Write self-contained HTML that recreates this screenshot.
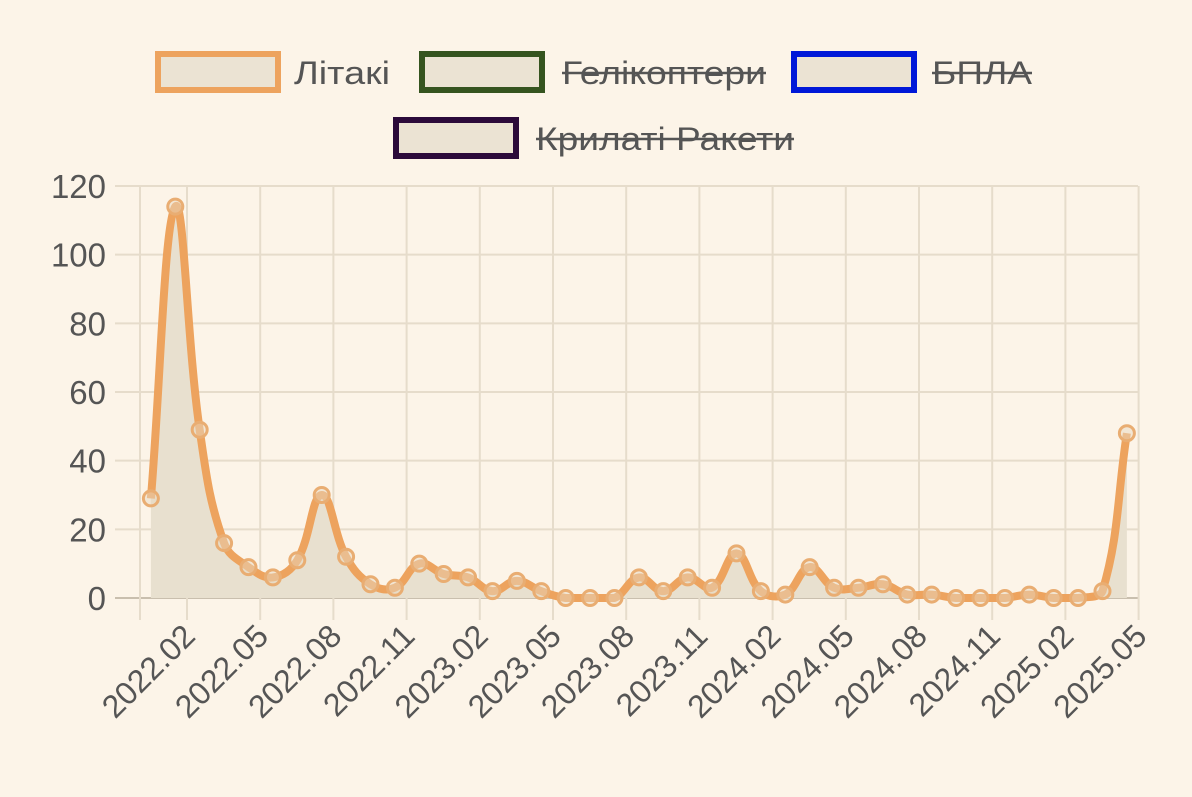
<!DOCTYPE html>
<html><head><meta charset="utf-8">
<style>
body{margin:0;background:#fcf4e8;}
svg{display:block;font-family:"Liberation Sans",sans-serif;}
</style></head>
<body>
<svg id="chart" width="1192" height="797">
<rect width="1192" height="797" fill="#fcf4e8"/>
<g>
 <g>
  <rect x="158" y="54" width="120" height="36" fill="#ebe3d3" stroke="#eda35e" stroke-width="6"/>
  <text x="294" y="84" font-size="32" fill="#555" textLength="96" lengthAdjust="spacingAndGlyphs">Літакі</text>
 </g>
 <g>
  <rect x="422" y="54" width="120" height="36" fill="#ebe3d3" stroke="#35541f" stroke-width="6"/>
  <text x="562" y="84" font-size="32" fill="#555" textLength="204" lengthAdjust="spacingAndGlyphs">Гелікоптери</text>
  <line x1="562" y1="73" x2="766" y2="73" stroke="#555" stroke-width="2.5"/>
 </g>
 <g>
  <rect x="794" y="54" width="120" height="36" fill="#ebe3d3" stroke="#0018d8" stroke-width="6"/>
  <text x="932" y="84" font-size="32" fill="#555" textLength="100" lengthAdjust="spacingAndGlyphs">БПЛА</text>
  <line x1="932" y1="73" x2="1032" y2="73" stroke="#555" stroke-width="2.5"/>
 </g>
 <g>
  <rect x="396" y="120" width="120" height="36" fill="#ebe3d3" stroke="#2b0a3a" stroke-width="6"/>
  <text x="536" y="150" font-size="32" fill="#555" textLength="258" lengthAdjust="spacingAndGlyphs">Крилаті Ракети</text>
  <line x1="536" y1="139" x2="794" y2="139" stroke="#555" stroke-width="2.5"/>
 </g>
</g>
<g id="grid"></g>
<g id="yaxis"></g>
<g id="xaxis"></g>
<g id="series"></g>
</svg>
<script>
const yTicks = [0, 20, 40, 60, 80, 100, 120];
const xTickLabels = ["2022.02","2022.05","2022.08","2022.11","2023.02","2023.05","2023.08","2023.11","2024.02","2024.05","2024.08","2024.11","2025.02","2025.05"];
const xTickMonths = [0,3,6,9,12,15,18,21,24,27,30,33,36,39];
const pointMonths = [-1.48,-0.48,0.52,1.52,2.52,3.52,4.52,5.52,6.52,7.52,8.52,9.52,10.52,11.52,12.52,13.52,14.52,15.52,16.52,17.52,18.52,19.52,20.52,21.52,22.52,23.52,24.52,25.52,26.52,27.52,28.52,29.52,30.52,31.52,32.52,33.52,34.52,35.52,36.52,37.52,38.52];
const litakiValues = [29,114,49,16,9,6,11,30,12,4,3,10,7,6,2,5,2,0,0,0,6,2,6,3,13,2,1,9,3,3,4,1,1,0,0,0,1,0,0,2,48];

const NS="http://www.w3.org/2000/svg";
const X0=140, X1=1138, Y0=598, Y1=186;
function xs(m){return 187 + m*24.4;}
function ys(v){return Y0 - (v/120)*(Y0-Y1);}
function mk(tag,attrs,parent){const e=document.createElementNS(NS,tag);for(const k in attrs)e.setAttribute(k,attrs[k]);parent.appendChild(e);return e;}
const grid=document.getElementById('grid'), ya=document.getElementById('yaxis'), xa=document.getElementById('xaxis'), ser=document.getElementById('series');
yTicks.forEach(v=>{
  const l=mk('line',{x1:115,x2:X1,y1:ys(v),y2:ys(v),stroke:v===0?'#c9bfae':'#e6dccb','stroke-width':2},grid);
  
  
  const t=mk('text',{x:106,y:ys(v)+12,'text-anchor':'end','font-size':33,fill:'#555'},ya);
  t.textContent=v;
  
  
});
const vl=mk('line',{x1:X0,x2:X0,y1:Y1,y2:620,stroke:'#e6dccb','stroke-width':2},grid);


xTickMonths.forEach((m,i)=>{
  const x=xs(m);
  const l=mk('line',{x1:x,x2:x,y1:Y1,y2:620,stroke:'#e6dccb','stroke-width':2},grid);
  
  
  const t=mk('text',{x:0,y:0,'text-anchor':'end','font-size':32,fill:'#555',transform:`translate(${x+10},${638}) rotate(-45)`},xa);
  t.textContent=xTickLabels[i];
  
  
});
const pts=litakiValues.map((v,i)=>({x:xs(pointMonths[i]),y:ys(v)}));
const T=0.4;
const cps=pts.map((p,i)=>{
  const pr=pts[i-1]||p, nx=pts[i+1]||p;
  const d01=Math.hypot(p.x-pr.x,p.y-pr.y), d12=Math.hypot(nx.x-p.x,nx.y-p.y);
  const s=d01+d12||1;
  const fa=T*d01/s, fb=T*d12/s;
  return {px:p.x-fa*(nx.x-pr.x),py:p.y-fa*(nx.y-pr.y),nx:p.x+fb*(nx.x-pr.x),ny:p.y+fb*(nx.y-pr.y)};
});
let d=`M${pts[0].x},${pts[0].y}`;
for(let i=1;i<pts.length;i++){
  const c0=cps[i-1],c1=cps[i];
  d+=` C${c0.nx},${Math.min(c0.ny,Y0)} ${c1.px},${Math.min(c1.py,Y0)} ${pts[i].x},${pts[i].y}`;
}
const area=mk('path',{d:d+` L${pts[pts.length-1].x},${Y0} L${pts[0].x},${Y0} Z`,fill:'#e8e0cf'},ser);


const line=mk('path',{d:d,fill:'none',stroke:'#eda35e','stroke-width':8,'stroke-linejoin':'round'},ser);


pts.forEach(p=>{
  const c=mk('circle',{cx:p.x,cy:p.y,r:7.5,fill:'rgba(232,216,192,0.5)',stroke:'#e9ad72','stroke-width':3},ser);
  
  
});
</script>
</body></html>
